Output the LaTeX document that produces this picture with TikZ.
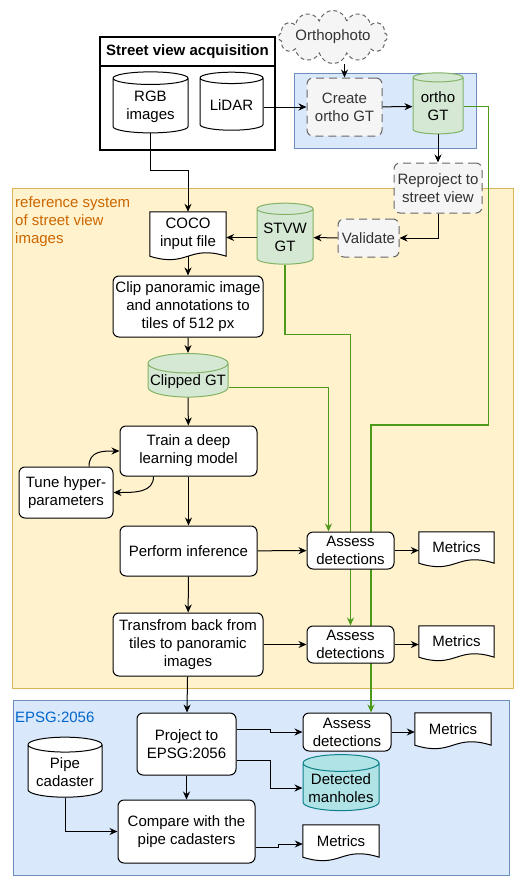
\documentclass[tikz,border=0pt]{standalone}
\usepackage{fontspec}
\setmainfont{Liberation Sans}
\usepackage{tikz}
\usetikzlibrary{arrows.meta,calc,shapes.geometric,shapes.symbols}
\usetikzlibrary{positioning}

\definecolor{ybg}{HTML}{FFF2CC}
\definecolor{yline}{HTML}{D6B656}
\definecolor{bbg}{HTML}{DAE8FC}
\definecolor{bline}{HTML}{6C8EBF}
\definecolor{gfill}{HTML}{D5E8D4}
\definecolor{gline}{HTML}{82B366}
\definecolor{tfill}{HTML}{B0E3E6}
\definecolor{tline}{HTML}{0E8088}
\definecolor{lgray}{HTML}{F5F5F5}
\definecolor{dgray}{HTML}{666666}
\definecolor{tgray}{HTML}{333333}
\definecolor{garrow}{HTML}{4D9A1A}
\definecolor{orangetxt}{HTML}{CC6600}
\definecolor{bluetxt}{HTML}{0066CC}

\pgfdeclarelayer{bg}
\pgfdeclarelayer{lines}
\pgfsetlayers{bg,lines,main}

\tikzstyle{proc}  = [draw,rectangle,rounded corners=6pt,fill=white,line width=1pt,align=center,inner sep=2pt]
\tikzstyle{gproc} = [proc,draw=dgray,fill=lgray,text=tgray,dash pattern=on 8pt off 5pt]
\tikzstyle{db}    = [draw,cylinder,shape border rotate=90,aspect=0.25,fill=white,line width=1pt,align=center,inner sep=1pt]
\tikzstyle{gt}    = [db,draw=gline,fill=gfill]
\tikzstyle{doc}   = [rectangle,align=center,inner sep=1pt]
\tikzstyle{arr}   = [-{Stealth[length=8pt,width=7pt]},line width=1pt]
\tikzstyle{garr}  = [arr,draw=garrow,line width=1.2pt]

% document shape drawn under its node
\newcommand{\docshape}[1]{%
  \filldraw[fill=white,line width=1pt] (#1.south east) -- (#1.north east) -- (#1.north west) -- (#1.south west)
    .. controls ($(#1.south)+(0,12)$) and ($(#1.south)+(0,-12)$) .. (#1.south east) -- cycle;}

\begin{document}
\begin{tikzpicture}[x=1pt,y=-1pt,font=\fontsize{15}{18}\selectfont]
\useasboundingbox (0,0) rectangle (527,889);

% containers
\begin{pgfonlayer}{bg}
\draw[fill=white,line width=1.4pt] (100,37) rectangle (275,150);
\draw[line width=1.4pt] (100,66) -- (275,66);
\draw[fill=bbg,draw=bline,line width=1pt] (294,73) rectangle (476,148);
\draw[fill=ybg,draw=yline,line width=1pt] (12,188) rectangle (513,688);
\draw[fill=bbg,draw=bline,line width=1pt] (13,700) rectangle (509,875);
\end{pgfonlayer}

\node[font=\fontsize{15}{18}\selectfont\bfseries] (ACQ) at (187.5,51.5) {Street view acquisition};
\node[text=orangetxt,align=left,anchor=north west,inner sep=0pt] (REFSYS) at (15,196) {reference system\\of street view\\images};
\node[text=bluetxt,anchor=west,inner sep=0pt] (EPSG) at (15,717) {EPSG:2056};

% top part
\node[db,minimum width=75pt,minimum height=61pt] (RGB) at (150.5,106.5) {RGB\\images};
\node[db,minimum width=63pt,minimum height=58pt] (LID) at (231.5,105) {LiDAR};
\node[cloud,cloud puffs=12,aspect=3.2,draw=dgray,fill=lgray,text=tgray,dash pattern=on 4pt off 3pt,line width=1pt,minimum width=80pt,minimum height=22pt,inner sep=0pt] (OPH) at (333,37) {Orthophoto};
\node[gproc,minimum width=75pt,minimum height=58pt] (CRE) at (344.5,107) {Create\\ortho GT};
\node[gt,minimum width=50pt,minimum height=61pt] (OGT) at (438,106.5) {ortho\\GT};
\node[gproc,minimum width=88pt,minimum height=50pt] (REP) at (438,188) {Reproject to\\street view};
\node[gproc,minimum width=61pt,minimum height=38pt] (VAL) at (368.5,238) {Validate};
\node[gt,minimum width=56pt,minimum height=61pt] (STV) at (285,237.5) {STVW\\GT};

% street view part
\node[doc,minimum width=76pt,minimum height=44pt] (COCO) at (188,234) {COCO\\input file};
\node[proc,minimum width=150pt,minimum height=61pt] (CLIP) at (188,306.5) {Clip panoramic image\\and annotations to\\tiles of 512 px};
\node[gt,minimum width=80pt,minimum height=37pt] (CGT) at (188,381.5) {Clipped GT};
\node[proc,minimum width=137pt,minimum height=50pt] (TRAIN) at (188.5,451) {Train a deep\\learning model};
\node[proc,minimum width=94pt,minimum height=51pt] (TUNE) at (66,492.5) {Tune hyper-\\parameters};
\node[proc,minimum width=137pt,minimum height=50pt] (INF) at (188.5,551) {Perform inference};
\node[proc,minimum width=87pt,minimum height=37pt] (AS1) at (350.5,550.5) {Assess\\detections};
\node[doc,minimum width=75pt,minimum height=31pt] (M1) at (456.5,547.5) {Metrics};
\node[proc,minimum width=150pt,minimum height=63pt] (TRF) at (188,644.5) {Transfrom back from\\tiles to panoramic\\images};
\node[proc,minimum width=87pt,minimum height=37pt] (AS2) at (350.5,644.5) {Assess\\detections};
\node[doc,minimum width=75pt,minimum height=31pt] (M2) at (456.5,641.5) {Metrics};

% EPSG part
\node[proc,minimum width=99pt,minimum height=62pt] (PROJ) at (186.5,744) {Project to\\EPSG:2056};
\node[proc,minimum width=88pt,minimum height=38pt] (AS3) at (347,732) {Assess\\detections};
\node[doc,minimum width=76pt,minimum height=32pt] (M3) at (453,729) {Metrics};
\node[db,draw=tline,fill=tfill,minimum width=76pt,minimum height=56pt] (MAN) at (341,788) {Detected\\manholes};
\node[db,minimum width=74pt,minimum height=60pt] (PIPE) at (65,772) {Pipe\\cadaster};
\node[proc,minimum width=137pt,minimum height=63pt] (CMP) at (186.5,831.5) {Compare with the\\pipe cadasters};
\node[doc,minimum width=76pt,minimum height=32pt] (M4) at (341,841) {Metrics};

% documents and ground truth links
\begin{pgfonlayer}{lines}
\docshape{COCO}
\docshape{M1}
\docshape{M2}
\docshape{M3}
\docshape{M4}
\draw[garr] (OGT.east) -- ++(25,0) |- (371,425) -- (AS3.north -| 371,0);
\draw[garr] (STV.south) -- ++(0,70) -| (AS2.north);
\draw[garr] ([yshift=-6pt]CGT.east) -| ([xshift=-22pt]AS1.north);
\end{pgfonlayer}

\path[arr]
	(CRE.west -| LID.east) edge (CRE.west)
	(CRE.north |- OPH.south) edge (CRE.north)
	(CRE) edge (OGT)
	(OGT) edge (REP)
	(VAL) edge (STV)
	(STV.west) edge (STV.west -| COCO.east)
	(COCO) edge (CLIP)
	(CLIP) edge (CGT)
	(CGT) edge (TRAIN)
	(TRAIN) edge (INF)
	(INF) edge (AS1)
	(AS1.east) edge (AS1.east -| M1.west)
	(INF) edge (TRF)
	(TRF) edge (AS2)
	(AS2.east) edge (AS2.east -| M2.west)
	(TRF) edge (PROJ)
	(AS3.east) edge (AS3.east -| M3.west)
	(PROJ) edge (CMP);

\draw[arr] (RGB.south) -- ++(0,37) -| (COCO.north);
\draw[arr] (REP.south) |- (VAL.east);
\draw[arr] ([xshift=23pt]TUNE.north) .. controls +(0,-16) and +(-16,0) .. (TRAIN.west);
\draw[arr] ([xshift=-35pt]TRAIN.south) .. controls +(0,16) and +(22,0) .. (TUNE.east);
\draw[arr] ([yshift=15pt]PROJ.east) -- ++(34,0) |- (AS3.west);
\draw[arr] ([yshift=-16pt]PROJ.east) -- ++(34,0) |- (MAN.west);
\draw[arr] (PIPE.south) |- (CMP.west);
\draw[arr] ([yshift=-15.5pt]CMP.east) -- ++(23,0) |- ([yshift=-3pt]M4.west);

\end{tikzpicture}
\end{document}
